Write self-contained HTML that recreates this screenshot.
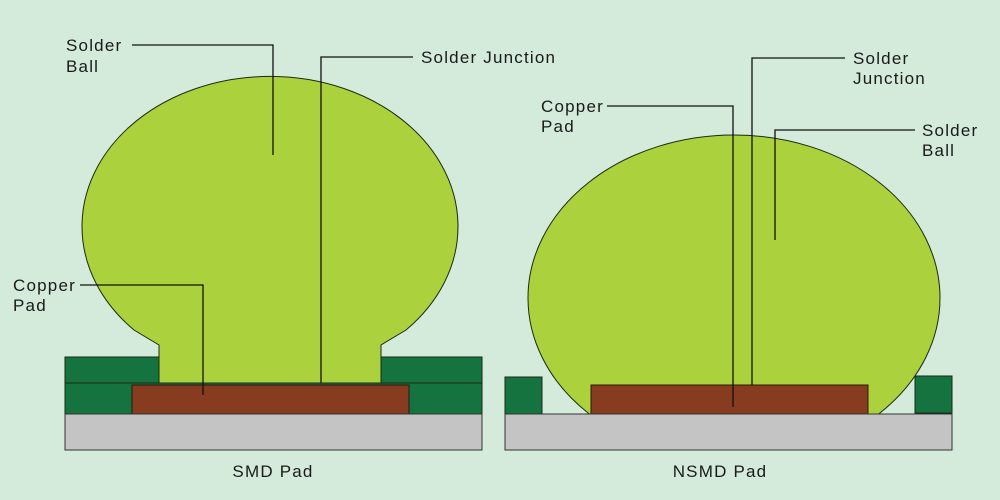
<!DOCTYPE html>
<html><head><style>
html,body{margin:0;padding:0;background:#d4eadb;}
svg{display:block}
text{font-family:"Liberation Sans",sans-serif;font-size:17px;letter-spacing:1.2px;fill:#1a1a1a}
</style></head><body>
<svg width="1000" height="500" viewBox="0 0 1000 500">
<defs><clipPath id="c"><rect x="0" y="0" width="1000" height="414"/></clipPath></defs>
<rect width="1000" height="500" fill="#d4eadb"/>
<path d="M159,383 L159,345 L134,330 A188,150 0 1 1 406,330 L381,345 L381,383 Z" fill="#abd13c" stroke="#1a2a10" stroke-width="1"/>
<rect x="65" y="357" width="94" height="26" fill="#14733e" stroke="#1a2a1a"/>
<rect x="381" y="357" width="101" height="26" fill="#14733e" stroke="#1a2a1a"/>
<rect x="65" y="383" width="417" height="31" fill="#14733e" stroke="#1a2a1a"/>
<rect x="132" y="385" width="277" height="29" fill="#873c1f" stroke="#2a1a10"/>
<rect x="65" y="414" width="417" height="36" fill="#c4c4c4" stroke="#333"/>
<ellipse cx="734" cy="298" rx="206" ry="163" fill="#abd13c" stroke="#1a2a10" stroke-width="1" clip-path="url(#c)"/>
<rect x="505" y="377" width="37" height="37" fill="#14733e" stroke="#1a2a1a"/>
<rect x="915" y="376" width="37" height="37" fill="#14733e" stroke="#1a2a1a"/>
<rect x="591" y="385" width="277" height="29" fill="#873c1f" stroke="#2a1a10"/>
<rect x="505" y="414" width="447" height="36" fill="#c4c4c4" stroke="#333"/>
<g fill="none" stroke="#111" stroke-width="1.3">
<polyline points="132,45 273,45 273,155"/>
<polyline points="413,57 321,57 321,383"/>
<polyline points="80,285 203,285 203,395"/>
<polyline points="607,106 733,106 733,407"/>
<polyline points="845,58 752,58 752,385"/>
<polyline points="915,130 775,130 775,240"/>
</g>
<text x="66" y="51">Solder</text>
<text x="66" y="72">Ball</text>
<text x="421" y="63">Solder Junction</text>
<text x="13" y="291">Copper</text>
<text x="13" y="311">Pad</text>
<text x="541" y="112">Copper</text>
<text x="541" y="132">Pad</text>
<text x="853" y="64">Solder</text>
<text x="853" y="84">Junction</text>
<text x="922" y="136">Solder</text>
<text x="922" y="156">Ball</text>
<text x="273" y="477" text-anchor="middle">SMD Pad</text>
<text x="720" y="477" text-anchor="middle">NSMD Pad</text>
</svg>
</body></html>
